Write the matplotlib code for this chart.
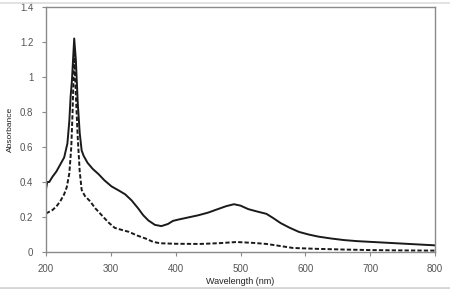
import numpy as np
import matplotlib
matplotlib.use('Agg')
import matplotlib.pyplot as plt
from matplotlib.lines import Line2D

plt.rcParams['font.family'] = ['Liberation Sans', 'DejaVu Sans']

# solid trace
wl_solid = [200, 202, 205, 210, 216, 222, 228, 233, 236, 238, 240, 243.5, 246, 249,
            252, 255, 258, 264, 272, 281, 290, 301, 312, 322, 332, 342, 350, 358,
            368, 378, 388, 396, 405, 420, 435, 450, 465, 478, 490, 500, 512, 525,
            540, 550, 562, 575, 590, 605, 620, 640, 660, 680, 700, 730, 760, 800]
abs_solid = [0.36, 0.40, 0.40, 0.43, 0.46, 0.50, 0.54, 0.62, 0.75, 0.89, 0.98, 1.22, 1.10, 0.85,
             0.68, 0.58, 0.55, 0.51, 0.475, 0.445, 0.41, 0.375, 0.352, 0.33, 0.295, 0.25, 0.21, 0.18,
             0.155, 0.148, 0.16, 0.178, 0.186, 0.198, 0.21, 0.225, 0.245, 0.262, 0.273, 0.265, 0.245, 0.232,
             0.218, 0.195, 0.165, 0.14, 0.115, 0.10, 0.088, 0.077, 0.068, 0.062, 0.058, 0.052, 0.046, 0.038]

# dashed trace
wl_dash = [200, 205, 210, 216, 222, 228, 232, 236, 239, 241, 243.5, 246, 249, 252,
           255, 260, 268, 276, 286, 296, 306, 318, 328, 340, 355, 365, 376, 400,
           437, 465, 494, 520, 540, 560, 581, 618, 660, 700, 750, 800]
abs_dash = [0.22, 0.23, 0.24, 0.26, 0.29, 0.33, 0.37, 0.45, 0.60, 0.80, 1.15, 0.90, 0.65, 0.46,
            0.355, 0.32, 0.29, 0.25, 0.21, 0.17, 0.138, 0.125, 0.115, 0.095, 0.075, 0.058, 0.05, 0.047,
            0.046, 0.05, 0.057, 0.052, 0.046, 0.035, 0.023, 0.018, 0.014, 0.011, 0.009, 0.008]

xticks = [200, 300, 400, 500, 600, 700, 800]
yticks = [0, 0.2, 0.4, 0.6, 0.8, 1, 1.2, 1.4]
ylabels = ['0', '0.2', '0.4', '0.6', '0.8', '1', '1.2', '1.4']

fig = plt.figure(figsize=(4.5, 2.89), dpi=100)
ax = fig.add_axes([46/450, 37/289, 389/450, 245/289])

ax.plot(wl_solid, abs_solid, '-', color='#1a1a1a', lw=1.4)
ax.plot(wl_dash, abs_dash, color='#1a1a1a', lw=1.4, dashes=(2.2, 1.1))

ax.set_xlim(200, 800)
ax.set_ylim(0, 1.4)
ax.set_xticks(xticks)
ax.set_yticks(yticks)
ax.set_yticklabels(ylabels)
for s in ax.spines.values():
    s.set_color('#8a8a8a')
    s.set_linewidth(1.0)
ax.tick_params(direction='out', length=3, width=0.8, color='#8a8a8a',
               labelsize=7, labelcolor='#555555', pad=6)

ax.set_xlabel('Wavelength (nm)', fontsize=6.5, color='#222222', labelpad=2)
ax.set_ylabel('Absorbance', fontsize=6, color='#222222', labelpad=4)

# faint frame lines at top and bottom of the picture
fig.add_artist(Line2D([0, 1], [1 - 3/289, 1 - 3/289], transform=fig.transFigure,
                      color='#dddddd', lw=1.2))
fig.add_artist(Line2D([0, 1], [1.5/289, 1.5/289], transform=fig.transFigure,
                      color='#d5d5d5', lw=2))

fig.savefig('out.png', dpi=100)
